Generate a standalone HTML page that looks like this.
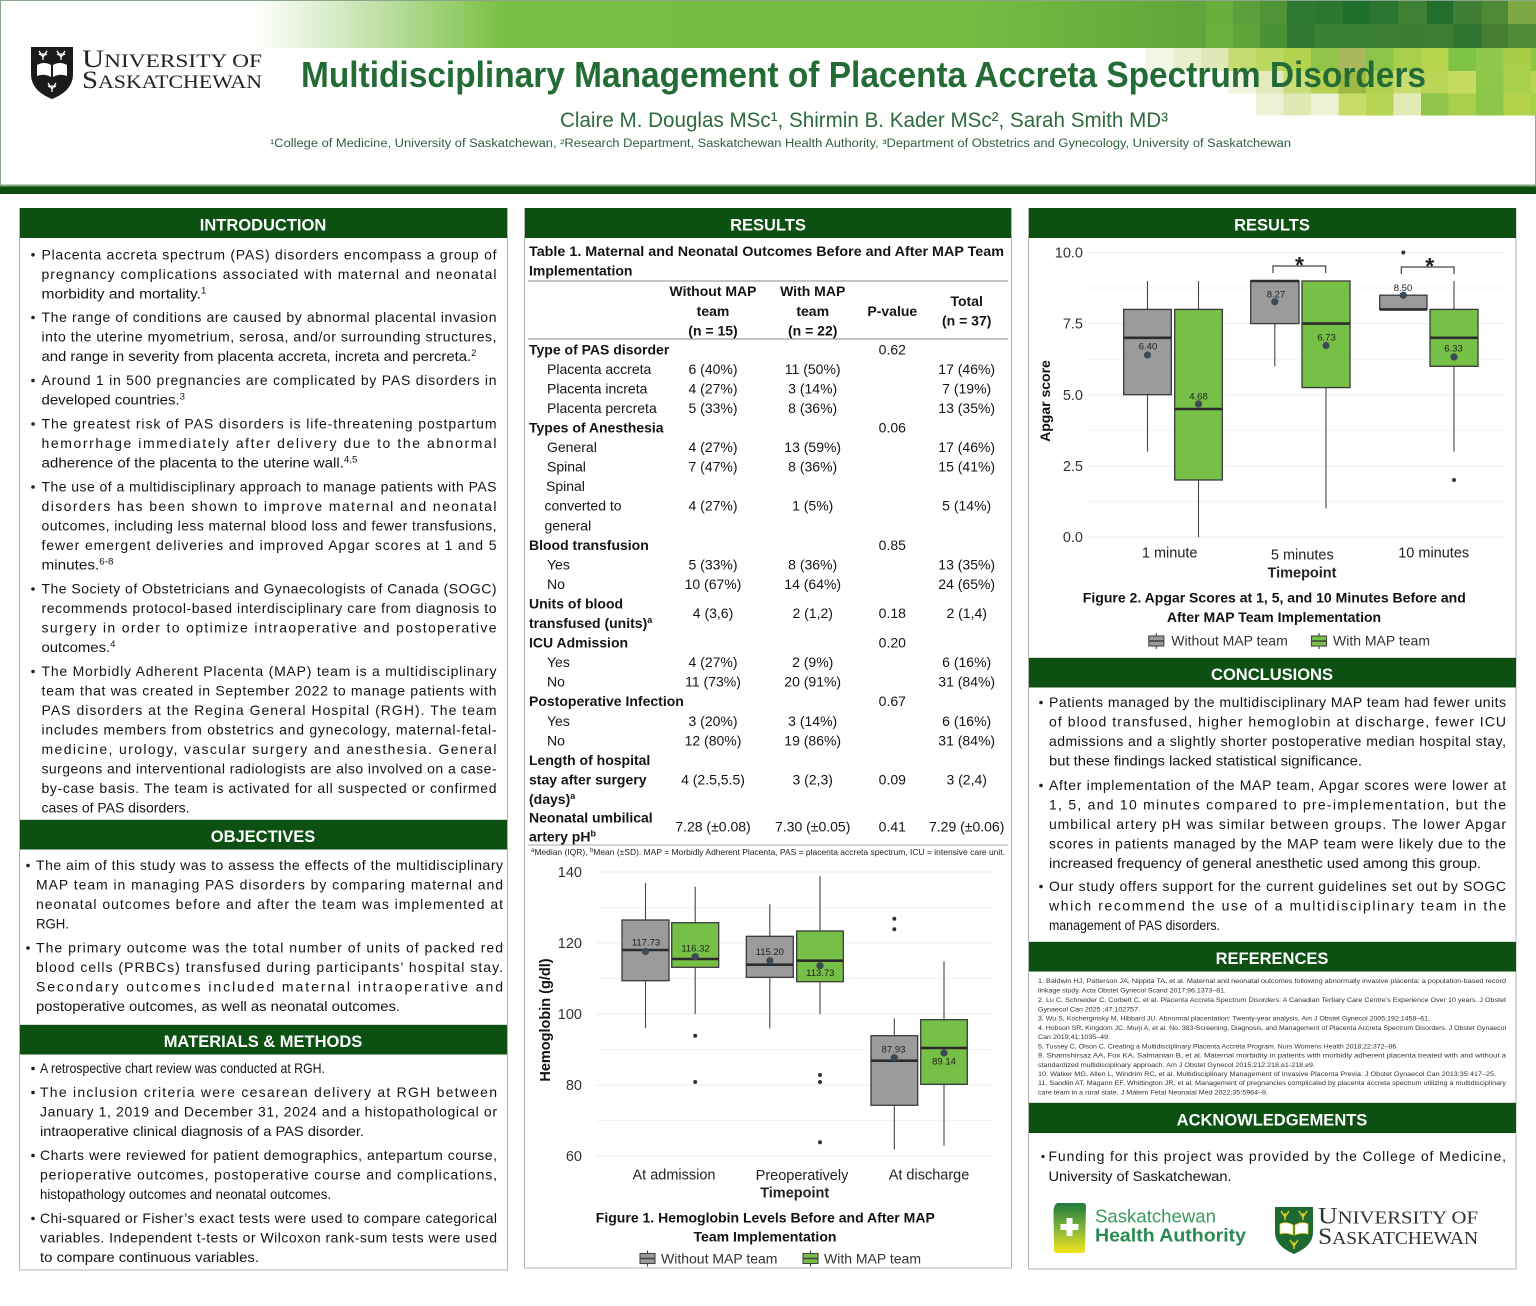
<!DOCTYPE html>
<html><head><meta charset="utf-8"><title>Multidisciplinary Management of Placenta Accreta Spectrum Disorders</title>
<style>html,body{margin:0;padding:0;background:#fff}svg{display:block}
.t{font-size:14px;fill:#141414}
.hd{font-size:16.5px;font-weight:bold;fill:#fff;text-anchor:middle}
.tb{font-size:14px;fill:#141414}
.tbb{font-size:14px;fill:#141414;font-weight:bold}
.c{text-anchor:middle}
.ref{font-size:6.6px;fill:#333}
.tick{font-size:14.5px;fill:#333;text-anchor:end}
.xl{font-size:14.5px;fill:#222;text-anchor:middle}
.ml{font-size:9.5px;fill:#1e1e1e;text-anchor:middle}
.leg{font-size:14px;fill:#333}
</style></head><body>
<svg xmlns="http://www.w3.org/2000/svg" width="1536" height="1306" viewBox="0 0 1536 1306" font-family="'Liberation Sans', Arial, sans-serif">
<defs>
<linearGradient id="g1" gradientUnits="userSpaceOnUse" x1="252" y1="0" x2="505" y2="0"><stop offset="0" stop-color="#ffffff"/><stop offset="0.35" stop-color="#d4eac2"/><stop offset="1" stop-color="#78c043"/></linearGradient>
<linearGradient id="g2" gradientUnits="userSpaceOnUse" x1="505" y1="0" x2="1290" y2="0"><stop offset="0" stop-color="#78c043"/><stop offset="0.6" stop-color="#74bb42"/><stop offset="1" stop-color="#5a9c39"/></linearGradient>
<linearGradient id="sha" x1="0" y1="0" x2="0" y2="1"><stop offset="0" stop-color="#1f7a3c"/><stop offset="0.5" stop-color="#7fb43a"/><stop offset="1" stop-color="#f5e51b"/></linearGradient>
</defs>

<!-- HEADER -->
<rect x="0.5" y="0.5" width="1535" height="186" fill="#fff" stroke="#8aa58a"/>
<rect x="252" y="1" width="253" height="47" fill="url(#g1)"/>
<rect x="505" y="1" width="785" height="47" fill="url(#g2)"/>
<g>
<rect x="1206" y="1" width="28" height="23" fill="#6aae3e"/>
<rect x="1233" y="1" width="28" height="23" fill="#5c9f3a"/>
<rect x="1260" y="1" width="28" height="23" fill="#4f9437"/>
<rect x="1287" y="1" width="28" height="23" fill="#2f7a31"/>
<rect x="1315" y="1" width="29" height="23" fill="#2d7630"/>
<rect x="1343" y="1" width="28" height="23" fill="#1e6e2c"/>
<rect x="1370" y="1" width="29" height="23" fill="#2c7531"/>
<rect x="1398" y="1" width="29" height="23" fill="#3e8034"/>
<rect x="1427" y="1" width="27" height="23" fill="#226f2d"/>
<rect x="1453" y="1" width="29" height="23" fill="#3f7f34"/>
<rect x="1482" y="1" width="27" height="23" fill="#4e8936"/>
<rect x="1508" y="1" width="28" height="23" fill="#7ea843"/>
<rect x="1206" y="24" width="28" height="24" fill="#6cb13f"/>
<rect x="1233" y="24" width="28" height="24" fill="#5ea43b"/>
<rect x="1260" y="24" width="28" height="24" fill="#4b9236"/>
<rect x="1287" y="24" width="28" height="24" fill="#2f7931"/>
<rect x="1315" y="24" width="29" height="24" fill="#3a8134"/>
<rect x="1343" y="24" width="28" height="24" fill="#3a7e33"/>
<rect x="1370" y="24" width="29" height="24" fill="#3c7f33"/>
<rect x="1398" y="24" width="29" height="24" fill="#3a7c32"/>
<rect x="1427" y="24" width="27" height="24" fill="#3d7e33"/>
<rect x="1453" y="24" width="29" height="24" fill="#2e7530"/>
<rect x="1482" y="24" width="27" height="24" fill="#467f34"/>
<rect x="1508" y="24" width="28" height="24" fill="#4e8a37"/>
</g>
<g>
<rect x="1146" y="48" width="28" height="23" fill="#f3f6e4"/>
<rect x="1173.5" y="48" width="28" height="23" fill="#e9efcc"/>
<rect x="1201" y="48" width="28" height="23" fill="#dfe9b8"/>
<rect x="1228.5" y="48" width="28" height="23" fill="#c6dc6e"/>
<rect x="1256" y="48" width="28" height="23" fill="#bdd85f"/>
<rect x="1283.5" y="48" width="28" height="23" fill="#b3d24e"/>
<rect x="1311" y="48" width="28" height="23" fill="#93c44c"/>
<rect x="1338.5" y="48" width="28" height="23" fill="#a9b85e"/>
<rect x="1366" y="48" width="28" height="23" fill="#8cc44a"/>
<rect x="1393.5" y="48" width="28" height="23" fill="#a9d04a"/>
<rect x="1421" y="48" width="28" height="23" fill="#b6d44c"/>
<rect x="1448.5" y="48" width="28" height="23" fill="#7ec444"/>
<rect x="1476" y="48" width="28" height="23" fill="#8fc84b"/>
<rect x="1503.5" y="48" width="28" height="23" fill="#a6cf47"/>
<rect x="1531" y="48" width="5" height="23" fill="#8cc642"/>
<rect x="1228.5" y="71" width="28" height="22.5" fill="#f2f5e0"/>
<rect x="1256" y="71" width="28" height="22.5" fill="#e3ebbd"/>
<rect x="1283.5" y="71" width="28" height="22.5" fill="#c9dd78"/>
<rect x="1311" y="71" width="28" height="22.5" fill="#b7d250"/>
<rect x="1338.5" y="71" width="28" height="22.5" fill="#9fb945"/>
<rect x="1366" y="71" width="28" height="22.5" fill="#b1d152"/>
<rect x="1393.5" y="71" width="28" height="22.5" fill="#c9dd72"/>
<rect x="1421" y="71" width="28" height="22.5" fill="#b9d457"/>
<rect x="1448.5" y="71" width="28" height="22.5" fill="#c6db62"/>
<rect x="1476" y="71" width="28" height="22.5" fill="#8dc649"/>
<rect x="1503.5" y="71" width="28" height="22.5" fill="#a9d04a"/>
<rect x="1531" y="71" width="5" height="22.5" fill="#b6d44e"/>
<rect x="1256" y="93.5" width="28" height="22" fill="#eef3d6"/>
<rect x="1283.5" y="93.5" width="28" height="22" fill="#e0e8b4"/>
<rect x="1311" y="93.5" width="28" height="22" fill="#eef3d6"/>
<rect x="1338.5" y="93.5" width="28" height="22" fill="#c8dc6a"/>
<rect x="1366" y="93.5" width="28" height="22" fill="#b8d455"/>
<rect x="1393.5" y="93.5" width="28" height="22" fill="#e2eab5"/>
<rect x="1421" y="93.5" width="28" height="22" fill="#8fc54a"/>
<rect x="1448.5" y="93.5" width="28" height="22" fill="#a8cf4a"/>
<rect x="1476" y="93.5" width="28" height="22" fill="#8cc548"/>
<rect x="1503.5" y="93.5" width="28" height="22" fill="#b5d34a"/>
<rect x="1531" y="93.5" width="5" height="22" fill="#a8cf48"/>
</g>
<rect x="0" y="184.5" width="1536" height="2" fill="#7aa87a"/>
<rect x="0" y="186.5" width="1536" height="7.5" fill="#0a4f0e"/>

<path d="M31,47 H73 V74 C73,88 62,95 52,99 C42,95 31,88 31,74 Z" fill="#1b1b1b"/>
<path d="M37,65 Q44,61 51,65 V77 Q44,73 37,76 Z M53,65 Q60,61 67,65 V76 Q60,73 53,77 Z" fill="#fff"/>
<g stroke="#fff" stroke-width="1.3" fill="none">
<path d="M43,60 V53 M43,57 L39,51 M43,57 L47,51 M41,55 L39,54 M45,55 L47,54"/>
<path d="M61,60 V53 M61,57 L57,51 M61,57 L65,51 M59,55 L57,54 M63,55 L65,54"/>
<path d="M52,92 V85 M52,89 L48,83 M52,89 L56,83 M50,87 L48,86 M54,87 L56,86"/>
</g>
<text x="82" y="67" font-family="'Liberation Serif', serif" fill="#222" textLength="180" lengthAdjust="spacingAndGlyphs"><tspan font-size="25">U</tspan><tspan font-size="19">NIVERSITY OF</tspan></text>
<text x="82" y="88" font-family="'Liberation Serif', serif" fill="#222" textLength="180" lengthAdjust="spacingAndGlyphs"><tspan font-size="25">S</tspan><tspan font-size="19">ASKATCHEWAN</tspan></text>

<text x="301" y="87" font-size="36" font-weight="bold" fill="#246c36" textLength="1125" lengthAdjust="spacingAndGlyphs">Multidisciplinary Management of Placenta Accreta Spectrum Disorders</text>
<text x="560" y="127" font-size="21" fill="#2d6a3d" textLength="608" lengthAdjust="spacingAndGlyphs">Claire M. Douglas MSc¹, Shirmin B. Kader MSc², Sarah Smith MD³</text>
<text x="270" y="147" font-size="11.5" fill="#2e5e3e" textLength="1021" lengthAdjust="spacingAndGlyphs">¹College of Medicine, University of Saskatchewan, ²Research Department, Saskatchewan Health Authority, ³Department of Obstetrics and Gynecology, University of Saskatchewan</text>

<!-- PANEL BORDERS -->
<g fill="none" stroke="#b3b3b3">
<rect x="19.5" y="208.5" width="488" height="611.5"/>
<rect x="19.5" y="820" width="488" height="205"/>
<rect x="19.5" y="1025" width="488" height="245"/>
<rect x="524.5" y="208.5" width="487" height="1059.5"/>
<rect x="1028.5" y="208.5" width="487.5" height="449.5"/>
<rect x="1028.5" y="658" width="487.5" height="284"/>
<rect x="1028.5" y="942" width="487.5" height="161"/>
<rect x="1028.5" y="1103" width="487.5" height="166"/>
</g>
<g fill="#0c5012">
<rect x="20" y="208" width="487" height="30"/>
<rect x="20" y="820" width="487" height="29.5"/>
<rect x="20" y="1025" width="487" height="29.5"/>
<rect x="525" y="208" width="486" height="30"/>
<rect x="1029" y="208" width="487" height="30"/>
<rect x="1029" y="658" width="487" height="29.5"/>
<rect x="1029" y="942" width="487" height="29.5"/>
<rect x="1029" y="1103" width="487" height="30"/>
</g>
<text class="hd" x="263" y="230.5">INTRODUCTION</text>
<text class="hd" x="263" y="842">OBJECTIVES</text>
<text class="hd" x="263" y="1047">MATERIALS &amp; METHODS</text>
<text class="hd" x="768" y="230.5">RESULTS</text>
<text class="hd" x="1272" y="230.5">RESULTS</text>
<text class="hd" x="1272" y="680">CONCLUSIONS</text>
<text class="hd" x="1272" y="964">REFERENCES</text>
<text class="hd" x="1272" y="1125.5">ACKNOWLEDGEMENTS</text>

<g fill="#222">
<circle cx="33" cy="254.8" r="1.8"/><circle cx="33" cy="317.5" r="1.8"/><circle cx="33" cy="380.5" r="1.8"/><circle cx="33" cy="424" r="1.8"/><circle cx="33" cy="487" r="1.8"/><circle cx="33" cy="589" r="1.8"/><circle cx="33" cy="671.5" r="1.8"/>
<circle cx="28" cy="865.5" r="1.8"/><circle cx="28" cy="948" r="1.8"/>
<circle cx="33" cy="1068.5" r="1.8"/><circle cx="33" cy="1092.5" r="1.8"/><circle cx="33" cy="1155.5" r="1.8"/><circle cx="33" cy="1218.5" r="1.8"/>
<circle cx="1041" cy="702.5" r="1.8"/><circle cx="1041" cy="785.5" r="1.8"/><circle cx="1041" cy="886.5" r="1.8"/>
<circle cx="1043" cy="1156.5" r="1.6"/>
</g>
<g class="t">
<text class="t" x="41.5" y="259.3" textLength="455" lengthAdjust="spacing">Placenta accreta spectrum (PAS) disorders encompass a group of</text>
<text class="t" x="41.5" y="278.8" textLength="455" lengthAdjust="spacing">pregnancy complications associated with maternal and neonatal</text>
<text class="t" x="41.5" y="298.3" textLength="165" lengthAdjust="spacingAndGlyphs">morbidity and mortality.<tspan font-size="9" dy="-5">1</tspan></text>
<text class="t" x="41.5" y="322" textLength="455" lengthAdjust="spacing">The range of conditions are caused by abnormal placental invasion</text>
<text class="t" x="41.5" y="341.5" textLength="455" lengthAdjust="spacing">into the uterine myometrium, serosa, and/or surrounding structures,</text>
<text class="t" x="41.5" y="361" textLength="435" lengthAdjust="spacingAndGlyphs">and range in severity from placenta accreta, increta and percreta.<tspan font-size="9" dy="-5">2</tspan></text>
<text class="t" x="41.5" y="385" textLength="455" lengthAdjust="spacing">Around 1 in 500 pregnancies are complicated by PAS disorders in</text>
<text class="t" x="41.5" y="404.5" textLength="143.5" lengthAdjust="spacingAndGlyphs">developed countries.<tspan font-size="9" dy="-5">3</tspan></text>
<text class="t" x="41.5" y="428.5" textLength="455" lengthAdjust="spacing">The greatest risk of PAS disorders is life-threatening postpartum</text>
<text class="t" x="41.5" y="448" textLength="455" lengthAdjust="spacing">hemorrhage immediately after delivery due to the abnormal</text>
<text class="t" x="41.5" y="467.5" textLength="316" lengthAdjust="spacingAndGlyphs">adherence of the placenta to the uterine wall.<tspan font-size="9" dy="-5">4,5</tspan></text>
<text class="t" x="41.5" y="491.5" textLength="455" lengthAdjust="spacing">The use of a multidisciplinary approach to manage patients with PAS</text>
<text class="t" x="41.5" y="511" textLength="455" lengthAdjust="spacing">disorders has been shown to improve maternal and neonatal</text>
<text class="t" x="41.5" y="530.5" textLength="455" lengthAdjust="spacing">outcomes, including less maternal blood loss and fewer transfusions,</text>
<text class="t" x="41.5" y="550" textLength="455" lengthAdjust="spacing">fewer emergent deliveries and improved Apgar scores at 1 and 5</text>
<text class="t" x="41.5" y="569.5" textLength="72" lengthAdjust="spacingAndGlyphs">minutes.<tspan font-size="9" dy="-5">6-8</tspan></text>
<text class="t" x="41.5" y="593.5" textLength="455" lengthAdjust="spacing">The Society of Obstetricians and Gynaecologists of Canada (SOGC)</text>
<text class="t" x="41.5" y="613" textLength="455" lengthAdjust="spacing">recommends protocol-based interdisciplinary care from diagnosis to</text>
<text class="t" x="41.5" y="632.5" textLength="455" lengthAdjust="spacing">surgery in order to optimize intraoperative and postoperative</text>
<text class="t" x="41.5" y="652" textLength="74" lengthAdjust="spacingAndGlyphs">outcomes.<tspan font-size="9" dy="-5">4</tspan></text>
<text class="t" x="41.5" y="676" textLength="455" lengthAdjust="spacing">The Morbidly Adherent Placenta (MAP) team is a multidisciplinary</text>
<text class="t" x="41.5" y="695.5" textLength="455" lengthAdjust="spacing">team that was created in September 2022 to manage patients with</text>
<text class="t" x="41.5" y="715" textLength="455" lengthAdjust="spacing">PAS disorders at the Regina General Hospital (RGH). The team</text>
<text class="t" x="41.5" y="734.5" textLength="455" lengthAdjust="spacing">includes members from obstetrics and gynecology, maternal-fetal-</text>
<text class="t" x="41.5" y="754" textLength="455" lengthAdjust="spacing">medicine, urology, vascular surgery and anesthesia. General</text>
<text class="t" x="41.5" y="773.5" textLength="455" lengthAdjust="spacing">surgeons and interventional radiologists are also involved on a case-</text>
<text class="t" x="41.5" y="793" textLength="455" lengthAdjust="spacing">by-case basis. The team is activated for all suspected or confirmed</text>
<text class="t" x="41.5" y="812.5" textLength="148" lengthAdjust="spacingAndGlyphs">cases of PAS disorders.</text>

<text class="t" x="36" y="870" textLength="467" lengthAdjust="spacing">The aim of this study was to assess the effects of the multidisciplinary</text>
<text class="t" x="36" y="889.5" textLength="467" lengthAdjust="spacing">MAP team in managing PAS disorders by comparing maternal and</text>
<text class="t" x="36" y="909" textLength="467" lengthAdjust="spacing">neonatal outcomes before and after the team was implemented at</text>
<text class="t" x="36" y="928.5" textLength="33" lengthAdjust="spacingAndGlyphs">RGH.</text>
<text class="t" x="36" y="952.5" textLength="467" lengthAdjust="spacing">The primary outcome was the total number of units of packed red</text>
<text class="t" x="36" y="972" textLength="467" lengthAdjust="spacing">blood cells (PRBCs) transfused during participants’ hospital stay.</text>
<text class="t" x="36" y="991.5" textLength="467" lengthAdjust="spacing">Secondary outcomes included maternal intraoperative and</text>
<text class="t" x="36" y="1011" textLength="364" lengthAdjust="spacingAndGlyphs">postoperative outcomes, as well as neonatal outcomes.</text>

<text class="t" x="40" y="1073" textLength="285" lengthAdjust="spacingAndGlyphs">A retrospective chart review was conducted at RGH.</text>
<text class="t" x="40" y="1097" textLength="457" lengthAdjust="spacing">The inclusion criteria were cesarean delivery at RGH between</text>
<text class="t" x="40" y="1116.5" textLength="457" lengthAdjust="spacing">January 1, 2019 and December 31, 2024 and a histopathological or</text>
<text class="t" x="40" y="1136" textLength="324" lengthAdjust="spacingAndGlyphs">intraoperative clinical diagnosis of a PAS disorder.</text>
<text class="t" x="40" y="1160" textLength="457" lengthAdjust="spacing">Charts were reviewed for patient demographics, antepartum course,</text>
<text class="t" x="40" y="1179.5" textLength="457" lengthAdjust="spacing">perioperative outcomes, postoperative course and complications,</text>
<text class="t" x="40" y="1199" textLength="291" lengthAdjust="spacingAndGlyphs">histopathology outcomes and neonatal outcomes.</text>
<text class="t" x="40" y="1223" textLength="457" lengthAdjust="spacing">Chi-squared or Fisher’s exact tests were used to compare categorical</text>
<text class="t" x="40" y="1242.5" textLength="457" lengthAdjust="spacing">variables. Independent t-tests or Wilcoxon rank-sum tests were used</text>
<text class="t" x="40" y="1262" textLength="219" lengthAdjust="spacingAndGlyphs">to compare continuous variables.</text>

<text class="t" x="1049" y="707" textLength="457" lengthAdjust="spacing">Patients managed by the multidisciplinary MAP team had fewer units</text>
<text class="t" x="1049" y="726.5" textLength="457" lengthAdjust="spacing">of blood transfused, higher hemoglobin at discharge, fewer ICU</text>
<text class="t" x="1049" y="746" textLength="457" lengthAdjust="spacing">admissions and a slightly shorter postoperative median hospital stay,</text>
<text class="t" x="1049" y="765.5" textLength="313" lengthAdjust="spacingAndGlyphs">but these findings lacked statistical significance.</text>
<text class="t" x="1049" y="790" textLength="457" lengthAdjust="spacing">After implementation of the MAP team, Apgar scores were lower at</text>
<text class="t" x="1049" y="809.5" textLength="457" lengthAdjust="spacing">1, 5, and 10 minutes compared to pre-implementation, but the</text>
<text class="t" x="1049" y="829" textLength="457" lengthAdjust="spacing">umbilical artery pH was similar between groups. The lower Apgar</text>
<text class="t" x="1049" y="848.5" textLength="457" lengthAdjust="spacing">scores in patients managed by the MAP team were likely due to the</text>
<text class="t" x="1049" y="868" textLength="432" lengthAdjust="spacingAndGlyphs">increased frequency of general anesthetic used among this group.</text>
<text class="t" x="1049" y="891" textLength="457" lengthAdjust="spacing">Our study offers support for the current guidelines set out by SOGC</text>
<text class="t" x="1049" y="910.5" textLength="457" lengthAdjust="spacing">which recommend the use of a multidisciplinary team in the</text>
<text class="t" x="1049" y="930" textLength="171" lengthAdjust="spacingAndGlyphs">management of PAS disorders.</text>

<text class="t" x="1048.5" y="1161" textLength="457.5" lengthAdjust="spacing">Funding for this project was provided by the College of Medicine,</text>
<text class="t" x="1048.5" y="1181" textLength="183" lengthAdjust="spacingAndGlyphs">University of Saskatchewan.</text>
</g>

<g class="ref">
<text class="ref" x="1038" y="983" textLength="468" lengthAdjust="spacingAndGlyphs">1. Baldwin HJ, Patterson JA, Nippita TA, et al. Maternal and neonatal outcomes following abnormally invasive placenta: a population-based record</text>
<text class="ref" x="1038" y="992.5" textLength="188" lengthAdjust="spacingAndGlyphs">linkage study. Acta Obstet Gynecol Scand 2017;96:1373–81.</text>
<text class="ref" x="1038" y="1002" textLength="468" lengthAdjust="spacingAndGlyphs">2. Lu C, Schneider C, Corbett C, et al. Placenta Accreta Spectrum Disorders: A Canadian Tertiary Care Centre’s Experience Over 10 years. J Obstet</text>
<text class="ref" x="1038" y="1011.5" textLength="102" lengthAdjust="spacingAndGlyphs">Gynaecol Can 2025 ;47:102757.</text>
<text class="ref" x="1038" y="1020.5" textLength="392" lengthAdjust="spacingAndGlyphs">3. Wu S, Kocherginsky M, Hibbard JU. Abnormal placentation: Twenty-year analysis. Am J Obstet Gynecol 2005;192:1458–61.</text>
<text class="ref" x="1038" y="1030" textLength="468" lengthAdjust="spacingAndGlyphs">4. Hobson SR, Kingdom JC, Murji A, et al. No. 383-Screening, Diagnosis, and Management of Placenta Accreta Spectrum Disorders. J Obstet Gynaecol</text>
<text class="ref" x="1038" y="1039" textLength="72" lengthAdjust="spacingAndGlyphs">Can 2019;41:1035–49.</text>
<text class="ref" x="1038" y="1048.5" textLength="360" lengthAdjust="spacingAndGlyphs">5. Tussey C, Olson C. Creating a Multidisciplinary Placenta Accreta Program. Nurs Womens Health 2018;22:372–86.</text>
<text class="ref" x="1038" y="1057.5" textLength="468" lengthAdjust="spacingAndGlyphs">9. Shamshirsaz AA, Fox KA, Salmanian B, et al. Maternal morbidity in patients with morbidly adherent placenta treated with and without a</text>
<text class="ref" x="1038" y="1067" textLength="277" lengthAdjust="spacingAndGlyphs">standardized multidisciplinary approach. Am J Obstet Gynecol 2015;212:218.e1-218.e9.</text>
<text class="ref" x="1038" y="1076" textLength="458" lengthAdjust="spacingAndGlyphs">10. Walker MG, Allen L, Windrim RC, et al. Multidisciplinary Management of Invasive Placenta Previa. J Obstet Gynaecol Can 2013;35:417–25.</text>
<text class="ref" x="1038" y="1085" textLength="468" lengthAdjust="spacingAndGlyphs">11. Sandlin AT, Magann EF, Whittington JR, et al. Management of pregnancies complicated by placenta accreta spectrum utilizing a multidisciplinary</text>
<text class="ref" x="1038" y="1094.5" textLength="230" lengthAdjust="spacingAndGlyphs">care team in a rural state. J Matern Fetal Neonatal Med 2022;35:5964–9.</text>
</g>

<!-- TABLE -->
<text class="tbb" x="529" y="256" textLength="475" lengthAdjust="spacingAndGlyphs">Table 1. Maternal and Neonatal Outcomes Before and After MAP Team</text>
<text class="tbb" x="529" y="275.3">Implementation</text>
<rect x="528" y="280" width="480" height="2" fill="#c4c4c4"/>
<rect x="528" y="338" width="480" height="2" fill="#c4c4c4"/>
<rect x="528" y="844.5" width="480" height="1" fill="#aaa"/>
<g class="tbb" text-anchor="middle">
<text class="tbb c" x="713" y="296">Without MAP</text>
<text class="tbb c" x="713" y="316">team</text>
<text class="tbb c" x="713" y="335.3">(n = 15)</text>
<text class="tbb c" x="812.7" y="296">With MAP</text>
<text class="tbb c" x="812.7" y="316">team</text>
<text class="tbb c" x="812.7" y="335.3">(n = 22)</text>
<text class="tbb c" x="892.3" y="316">P-value</text>
<text class="tbb c" x="966.7" y="306">Total</text>
<text class="tbb c" x="966.7" y="325.3">(n = 37)</text>
</g>
<g>
<text class="tbb" x="529" y="354.3">Type of PAS disorder</text>
<text class="tb" x="547" y="373.9">Placenta accreta</text>
<text class="tb" x="547" y="393.4">Placenta increta</text>
<text class="tb" x="547" y="413">Placenta percreta</text>
<text class="tbb" x="529" y="432.5">Types of Anesthesia</text>
<text class="tb" x="547" y="452.1">General</text>
<text class="tb" x="547" y="471.6">Spinal</text>
<text class="tb" x="546" y="491.2">Spinal</text>
<text class="tb" x="544.5" y="510.7">converted to</text>
<text class="tb" x="544.5" y="530.3">general</text>
<text class="tbb" x="529" y="549.8">Blood transfusion</text>
<text class="tb" x="547" y="569.4">Yes</text>
<text class="tb" x="547" y="588.9">No</text>
<text class="tbb" x="529" y="608.5">Units of blood</text>
<text class="tbb" x="529" y="628">transfused (units)<tspan font-size="9" dy="-5">a</tspan></text>
<text class="tbb" x="529" y="647.6">ICU Admission</text>
<text class="tb" x="547" y="667.1">Yes</text>
<text class="tb" x="547" y="686.7">No</text>
<text class="tbb" x="529" y="706.2">Postoperative Infection</text>
<text class="tb" x="547" y="725.8">Yes</text>
<text class="tb" x="547" y="745.3">No</text>
<text class="tbb" x="529" y="764.9">Length of hospital</text>
<text class="tbb" x="529" y="784.4">stay after surgery</text>
<text class="tbb" x="529" y="804">(days)<tspan font-size="9" dy="-5">a</tspan></text>
<text class="tbb" x="529" y="822.7">Neonatal umbilical</text>
<text class="tbb" x="529" y="841.7">artery pH<tspan font-size="9" dy="-5">b</tspan></text>
</g>
<g class="tb" text-anchor="middle">
<text class="tb c" x="892.3" y="354.3">0.62</text>
<text class="tb c" x="713" y="373.9">6 (40%)</text><text class="tb c" x="812.7" y="373.9">11 (50%)</text><text class="tb c" x="966.7" y="373.9">17 (46%)</text>
<text class="tb c" x="713" y="393.4">4 (27%)</text><text class="tb c" x="812.7" y="393.4">3 (14%)</text><text class="tb c" x="966.7" y="393.4">7 (19%)</text>
<text class="tb c" x="713" y="413">5 (33%)</text><text class="tb c" x="812.7" y="413">8 (36%)</text><text class="tb c" x="966.7" y="413">13 (35%)</text>
<text class="tb c" x="892.3" y="432.5">0.06</text>
<text class="tb c" x="713" y="452.1">4 (27%)</text><text class="tb c" x="812.7" y="452.1">13 (59%)</text><text class="tb c" x="966.7" y="452.1">17 (46%)</text>
<text class="tb c" x="713" y="471.6">7 (47%)</text><text class="tb c" x="812.7" y="471.6">8 (36%)</text><text class="tb c" x="966.7" y="471.6">15 (41%)</text>
<text class="tb c" x="713" y="510.7">4 (27%)</text><text class="tb c" x="812.7" y="510.7">1 (5%)</text><text class="tb c" x="966.7" y="510.7">5 (14%)</text>
<text class="tb c" x="892.3" y="549.8">0.85</text>
<text class="tb c" x="713" y="569.4">5 (33%)</text><text class="tb c" x="812.7" y="569.4">8 (36%)</text><text class="tb c" x="966.7" y="569.4">13 (35%)</text>
<text class="tb c" x="713" y="588.9">10 (67%)</text><text class="tb c" x="812.7" y="588.9">14 (64%)</text><text class="tb c" x="966.7" y="588.9">24 (65%)</text>
<text class="tb c" x="713" y="618.2">4 (3,6)</text><text class="tb c" x="812.7" y="618.2">2 (1,2)</text><text class="tb c" x="892.3" y="618.2">0.18</text><text class="tb c" x="966.7" y="618.2">2 (1,4)</text>
<text class="tb c" x="892.3" y="647.6">0.20</text>
<text class="tb c" x="713" y="667.1">4 (27%)</text><text class="tb c" x="812.7" y="667.1">2 (9%)</text><text class="tb c" x="966.7" y="667.1">6 (16%)</text>
<text class="tb c" x="713" y="686.7">11 (73%)</text><text class="tb c" x="812.7" y="686.7">20 (91%)</text><text class="tb c" x="966.7" y="686.7">31 (84%)</text>
<text class="tb c" x="892.3" y="706.2">0.67</text>
<text class="tb c" x="713" y="725.8">3 (20%)</text><text class="tb c" x="812.7" y="725.8">3 (14%)</text><text class="tb c" x="966.7" y="725.8">6 (16%)</text>
<text class="tb c" x="713" y="745.3">12 (80%)</text><text class="tb c" x="812.7" y="745.3">19 (86%)</text><text class="tb c" x="966.7" y="745.3">31 (84%)</text>
<text class="tb c" x="713" y="784.4">4 (2.5,5.5)</text><text class="tb c" x="812.7" y="784.4">3 (2,3)</text><text class="tb c" x="892.3" y="784.4">0.09</text><text class="tb c" x="966.7" y="784.4">3 (2,4)</text>
<text class="tb c" x="713" y="831.7">7.28 (±0.08)</text><text class="tb c" x="812.7" y="831.7">7.30 (±0.05)</text><text class="tb c" x="892.3" y="831.7">0.41</text><text class="tb c" x="966.7" y="831.7">7.29 (±0.06)</text>
</g>
<text x="531" y="855" font-size="8.5" fill="#222" textLength="474" lengthAdjust="spacingAndGlyphs"><tspan font-size="6" dy="-3">a</tspan><tspan dy="3">Median (IQR), </tspan><tspan font-size="6" dy="-3">b</tspan><tspan dy="3">Mean (±SD). MAP = Morbidly Adherent Placenta, PAS = placenta accreta spectrum, ICU = intensive care unit.</tspan></text>

<!-- FIGURE 1 -->
<g stroke="#ececec" stroke-width="1">
<line x1="596" y1="907.5" x2="994" y2="907.5" stroke="#f3f3f3"/><line x1="596" y1="978.5" x2="994" y2="978.5" stroke="#f3f3f3"/><line x1="596" y1="1049.5" x2="994" y2="1049.5" stroke="#f3f3f3"/><line x1="596" y1="1120.5" x2="994" y2="1120.5" stroke="#f3f3f3"/>
<line x1="596" y1="872" x2="994" y2="872"/><line x1="596" y1="943" x2="994" y2="943"/><line x1="596" y1="1014" x2="994" y2="1014"/><line x1="596" y1="1085" x2="994" y2="1085"/><line x1="596" y1="1156" x2="994" y2="1156"/>
</g>
<text class="tick" x="582" y="877">140</text>
<text class="tick" x="582" y="948">120</text>
<text class="tick" x="582" y="1019">100</text>
<text class="tick" x="582" y="1090">80</text>
<text class="tick" x="582" y="1161">60</text>
<text x="550" y="1020" font-size="14.5" font-weight="bold" fill="#111" text-anchor="middle" transform="rotate(-90 550 1020)">Hemoglobin (g/dl)</text>
<g stroke="#444" stroke-width="1.1">
<line x1="645.5" y1="883" x2="645.5" y2="920"/><line x1="645.5" y1="980.7" x2="645.5" y2="1028"/>
<line x1="695.2" y1="886.7" x2="695.2" y2="922.7"/><line x1="695.2" y1="967.3" x2="695.2" y2="1014"/>
<line x1="769.8" y1="904.3" x2="769.8" y2="936.3"/><line x1="769.8" y1="977.3" x2="769.8" y2="1028.3"/>
<line x1="820" y1="876" x2="820" y2="931"/><line x1="820" y1="981.7" x2="820" y2="1014.3"/>
<line x1="894.3" y1="1018.3" x2="894.3" y2="1035.7"/><line x1="894.3" y1="1105.3" x2="894.3" y2="1149.3"/>
<line x1="944" y1="961.3" x2="944" y2="1019.7"/><line x1="944" y1="1084.3" x2="944" y2="1145.7"/>
</g>
<g stroke="#3a3a3a" stroke-width="1.3">
<rect x="622" y="920" width="47" height="60.7" fill="#9b9b9b"/>
<rect x="671.7" y="922.7" width="47" height="44.6" fill="#77c047"/>
<rect x="746.3" y="936.3" width="47" height="41" fill="#9b9b9b"/>
<rect x="796.7" y="931" width="46.6" height="50.7" fill="#77c047"/>
<rect x="871" y="1035.7" width="46.7" height="69.6" fill="#9b9b9b"/>
<rect x="920.7" y="1019.7" width="46.6" height="64.6" fill="#77c047"/>
</g>
<g stroke="#2c2c2c" stroke-width="2.6">
<line x1="622" y1="950" x2="669" y2="950"/>
<line x1="671.7" y1="959" x2="718.7" y2="959"/>
<line x1="746.3" y1="964.7" x2="793.3" y2="964.7"/>
<line x1="796.7" y1="960.7" x2="843.3" y2="960.7"/>
<line x1="871" y1="1060.7" x2="917.7" y2="1060.7"/>
<line x1="920.7" y1="1048" x2="967.3" y2="1048"/>
</g>
<g fill="#333">
<circle cx="695.2" cy="1035.7" r="2"/><circle cx="695.2" cy="1082" r="2"/>
<circle cx="820" cy="1075" r="2"/><circle cx="820" cy="1082" r="2"/><circle cx="820" cy="1142.3" r="2"/>
<circle cx="894.3" cy="918.7" r="2"/><circle cx="894.3" cy="929.3" r="2"/>
</g>
<g fill="#3b4a55">
<circle cx="645.5" cy="951.5" r="3.6"/><circle cx="695.2" cy="956.7" r="3.6"/><circle cx="769.8" cy="960.7" r="3.6"/><circle cx="820" cy="965.7" r="3.6"/><circle cx="894.3" cy="1057.7" r="3.6"/><circle cx="944" cy="1053" r="3.6"/>
</g>
<text class="ml" x="646" y="945.7">117.73</text>
<text class="ml" x="695.5" y="951.7">116.32</text>
<text class="ml" x="769.8" y="955">115.20</text>
<text class="ml" x="820.3" y="976">113.73</text>
<text class="ml" x="893.5" y="1052.3">87.93</text>
<text class="ml" x="944" y="1064.3">89.14</text>
<text class="xl" x="674" y="1179.3">At admission</text>
<text class="xl" x="802" y="1180">Preoperatively</text>
<text class="xl" x="929" y="1179.3">At discharge</text>
<text class="xl" x="794.7" y="1197.3" font-weight="bold">Timepoint</text>
<text x="765.3" y="1222.7" font-size="14" font-weight="bold" fill="#111" text-anchor="middle" textLength="339" lengthAdjust="spacingAndGlyphs">Figure 1. Hemoglobin Levels Before and After MAP</text>
<text x="765" y="1241.7" font-size="14" font-weight="bold" fill="#111" text-anchor="middle">Team Implementation</text>
<g stroke="#444" stroke-width="1.1">
<line x1="647.5" y1="1250.5" x2="647.5" y2="1266.5"/><rect x="640" y="1253.5" width="15" height="10" fill="#9b9b9b"/><line x1="640" y1="1258.5" x2="655" y2="1258.5" stroke-width="1.6"/>
<line x1="810.5" y1="1250.5" x2="810.5" y2="1266.5"/><rect x="803" y="1253.5" width="15" height="10" fill="#77c047"/><line x1="803" y1="1258.5" x2="818" y2="1258.5" stroke-width="1.6"/>
</g>
<text class="leg" x="661" y="1263.3">Without MAP team</text>
<text class="leg" x="824" y="1263.3">With MAP team</text>

<!-- FIGURE 2 -->
<g stroke="#ececec" stroke-width="1">
<line x1="1088" y1="288" x2="1505" y2="288" stroke="#f3f3f3"/><line x1="1088" y1="359.2" x2="1505" y2="359.2" stroke="#f3f3f3"/><line x1="1088" y1="430.3" x2="1505" y2="430.3" stroke="#f3f3f3"/><line x1="1088" y1="501.4" x2="1505" y2="501.4" stroke="#f3f3f3"/>
<line x1="1088" y1="252.5" x2="1505" y2="252.5"/><line x1="1088" y1="323.6" x2="1505" y2="323.6"/><line x1="1088" y1="394.8" x2="1505" y2="394.8"/><line x1="1088" y1="465.9" x2="1505" y2="465.9"/><line x1="1088" y1="537" x2="1505" y2="537"/>
</g>
<text class="tick" x="1083" y="257.5">10.0</text>
<text class="tick" x="1083" y="328.6">7.5</text>
<text class="tick" x="1083" y="399.8">5.0</text>
<text class="tick" x="1083" y="470.9">2.5</text>
<text class="tick" x="1083" y="542">0.0</text>
<text x="1050" y="401" font-size="14" font-weight="bold" fill="#111" text-anchor="middle" transform="rotate(-90 1050 401)">Apgar score</text>
<g stroke="#444" stroke-width="1.1">
<line x1="1147.5" y1="281" x2="1147.5" y2="309.4"/><line x1="1147.5" y1="394.7" x2="1147.5" y2="451.6"/>
<line x1="1198.5" y1="281" x2="1198.5" y2="309.4"/><line x1="1198.5" y1="480" x2="1198.5" y2="537"/>
<line x1="1274.8" y1="323.6" x2="1274.8" y2="366.3"/>
<line x1="1326" y1="387.6" x2="1326" y2="508.5"/>
<line x1="1454" y1="281" x2="1454" y2="309.4"/><line x1="1454" y1="366.3" x2="1454" y2="451.6"/>
</g>
<g stroke="#3a3a3a" stroke-width="1.3">
<rect x="1123.7" y="309.4" width="47.6" height="85.3" fill="#9b9b9b"/>
<rect x="1174.7" y="309.4" width="47.6" height="170.6" fill="#77c047"/>
<rect x="1250.7" y="281" width="48.3" height="42.6" fill="#9b9b9b"/>
<rect x="1302" y="281" width="48" height="106.6" fill="#77c047"/>
<rect x="1379.7" y="295.2" width="47.3" height="14.2" fill="#9b9b9b"/>
<rect x="1430" y="309.4" width="48" height="56.9" fill="#77c047"/>
</g>
<g stroke="#2c2c2c" stroke-width="2.6">
<line x1="1123.7" y1="337.8" x2="1171.3" y2="337.8"/>
<line x1="1174.7" y1="409" x2="1222.3" y2="409"/>
<line x1="1250.7" y1="281" x2="1299" y2="281"/>
<line x1="1302" y1="323.6" x2="1350" y2="323.6"/>
<line x1="1379.7" y1="309.4" x2="1427" y2="309.4"/>
<line x1="1430" y1="337.8" x2="1478" y2="337.8"/>
</g>
<g fill="#333"><circle cx="1403.3" cy="252.5" r="2"/><circle cx="1454" cy="480" r="2"/></g>
<g fill="#3b4a55">
<circle cx="1147.5" cy="355" r="3.6"/><circle cx="1198.5" cy="403.9" r="3.6"/><circle cx="1274.8" cy="301.7" r="3.6"/><circle cx="1326" cy="345.5" r="3.6"/><circle cx="1403.3" cy="295.2" r="3.6"/><circle cx="1454" cy="356.9" r="3.6"/>
</g>
<text class="ml" x="1148" y="349.3">6.40</text>
<text class="ml" x="1198.5" y="399.3">4.68</text>
<text class="ml" x="1276" y="297.7">8.27</text>
<text class="ml" x="1326.5" y="340.3">6.73</text>
<text class="ml" x="1403" y="291">8.50</text>
<text class="ml" x="1453.5" y="351.3">6.33</text>
<g stroke="#444" stroke-width="1.2" fill="none">
<path d="M1273,273 V266 H1325.7 V273"/>
<path d="M1401.3,274 V267 H1454 V274"/>
</g>
<text x="1299.5" y="273" font-size="23" font-weight="bold" fill="#222" text-anchor="middle">*</text>
<text x="1429.7" y="274" font-size="23" font-weight="bold" fill="#222" text-anchor="middle">*</text>
<text class="xl" x="1169.7" y="557.7">1 minute</text>
<text class="xl" x="1302.3" y="559.3">5 minutes</text>
<text class="xl" x="1433.7" y="557.7">10 minutes</text>
<text class="xl" x="1302" y="577.7" font-weight="bold">Timepoint</text>
<text x="1274.3" y="602.7" font-size="14" font-weight="bold" fill="#111" text-anchor="middle" textLength="383" lengthAdjust="spacingAndGlyphs">Figure 2. Apgar Scores at 1, 5, and 10 Minutes Before and</text>
<text x="1274" y="622" font-size="14" font-weight="bold" fill="#111" text-anchor="middle">After MAP Team Implementation</text>
<g stroke="#444" stroke-width="1.1">
<line x1="1156.3" y1="633" x2="1156.3" y2="649"/><rect x="1148.8" y="636" width="15" height="10" fill="#9b9b9b"/><line x1="1148.8" y1="641" x2="1163.8" y2="641" stroke-width="1.6"/>
<line x1="1319" y1="633" x2="1319" y2="649"/><rect x="1311.5" y="636" width="15" height="10" fill="#77c047"/><line x1="1311.5" y1="641" x2="1326.5" y2="641" stroke-width="1.6"/>
</g>
<text class="leg" x="1171.3" y="645.3">Without MAP team</text>
<text class="leg" x="1333" y="645.3">With MAP team</text>

<!-- BOTTOM LOGOS -->
<path d="M1057,1203 H1083 Q1086,1203 1086,1206 L1085,1250 Q1085,1253 1082,1253 H1057 Q1054,1253 1054,1250 L1053.5,1212 Q1053.5,1208 1055,1205 Z" fill="url(#sha)"/>
<path d="M1066.5,1218 H1072.5 V1224 H1078.5 V1230 H1072.5 V1236 H1066.5 V1230 H1060.5 V1224 H1066.5 Z" fill="#fff"/>
<text x="1095" y="1222.7" font-size="18.5" fill="#3a9a5f" textLength="121" lengthAdjust="spacingAndGlyphs">Saskatchewan</text>
<text x="1095" y="1241.7" font-size="18.5" font-weight="bold" fill="#2a8a52" textLength="151" lengthAdjust="spacingAndGlyphs">Health Authority</text>
<path d="M1275,1207 H1313 V1232 C1313,1244 1303,1250 1294,1254 C1285,1250 1275,1244 1275,1232 Z" fill="#1f6a30"/>
<path d="M1280,1224 Q1286,1221 1293,1225 V1235 Q1286,1232 1280,1234 Z M1295,1225 Q1302,1221 1308,1224 V1234 Q1302,1232 1295,1235 Z" fill="#fff" stroke="#e5cf2a" stroke-width="0.8"/>
<g stroke="#e5cf2a" stroke-width="1.4" fill="none">
<path d="M1285,1220 V1213 M1285,1217 L1281,1211 M1285,1217 L1289,1211"/>
<path d="M1303,1220 V1213 M1303,1217 L1299,1211 M1303,1217 L1307,1211"/>
<path d="M1294,1249 V1242 M1294,1246 L1290,1240 M1294,1246 L1298,1240"/>
</g>
<text x="1318" y="1223.3" font-family="'Liberation Serif', serif" fill="#333" textLength="160" lengthAdjust="spacingAndGlyphs"><tspan font-size="23">U</tspan><tspan font-size="17.5">NIVERSITY OF</tspan></text>
<text x="1318" y="1244" font-family="'Liberation Serif', serif" fill="#333" textLength="160" lengthAdjust="spacingAndGlyphs"><tspan font-size="23">S</tspan><tspan font-size="17.5">ASKATCHEWAN</tspan></text>
</svg>
</body></html>
